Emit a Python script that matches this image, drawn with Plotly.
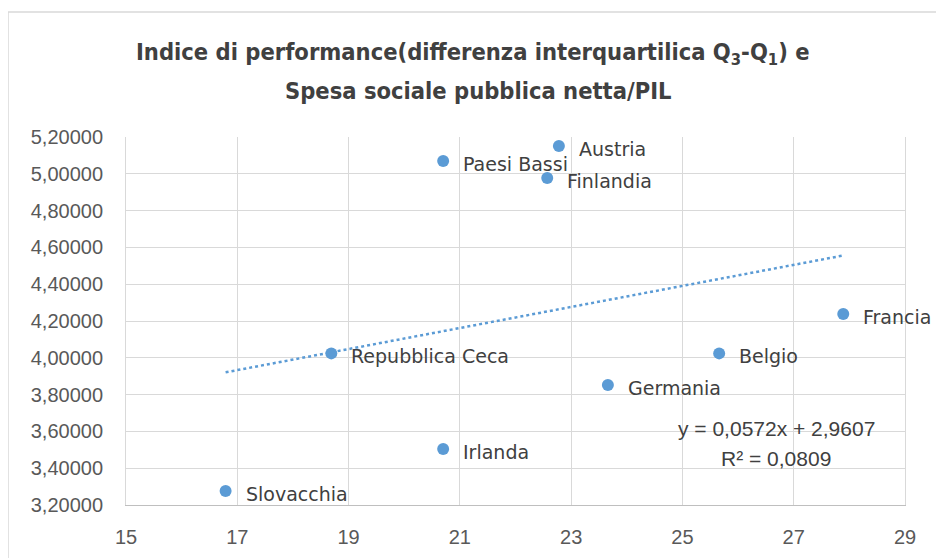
import plotly.graph_objects as go

countries = ["Slovacchia", "Repubblica Ceca", "Irlanda", "Paesi Bassi", "Austria",
             "Finlandia", "Germania", "Belgio", "Francia"]
spesa_pil = [16.79, 18.69, 20.70, 20.70, 22.78, 22.57, 23.66, 25.66, 27.89]
indice = [3.276, 4.024, 3.504, 5.070, 5.151, 4.977, 3.852, 4.024, 4.238]

trend_slope = 0.0572
trend_intercept = 2.9607
trend_r2 = 0.0809

x_ticks = [15, 17, 19, 21, 23, 25, 27, 29]
y_ticks = [3.2, 3.4, 3.6, 3.8, 4.0, 4.2, 4.4, 4.6, 4.8, 5.0, 5.2]
y_tick_labels = ["3,20000", "3,40000", "3,60000", "3,80000", "4,00000", "4,20000",
                 "4,40000", "4,60000", "4,80000", "5,00000", "5,20000"]

title_line1 = "<b>Indice di performance(differenza interquartilica Q<sub>3</sub>-Q<sub>1</sub>) e</b>"
title_line2 = "<b>Spesa sociale pubblica netta/PIL</b>"

BLUE = "#5B9BD5"
GRID = "#D9D9D9"
TXT = "#595959"
LBL = "#404040"
TITLE_FONT = "Liberation Sans Narrow, DejaVu Sans Condensed, Liberation Sans"

# page offset of the figure (browser body margin) is compensated in margins
L, R, T, B = 118, 47, 129, 61
PW = 944 - L - R   # 779
PH = 558 - T - B   # 368


def py(page_y):
    # page pixel y (reference) -> paper y
    return (505 - page_y) / PH


def px(page_x):
    return (page_x - 126) / PW


fig = go.Figure()

tx = [min(spesa_pil), max(spesa_pil)]
ty = [trend_slope * v + trend_intercept for v in tx]
fig.add_trace(go.Scatter(x=tx, y=ty, mode="lines",
                         line=dict(color=BLUE, width=2.5, dash="dot"),
                         hoverinfo="skip", showlegend=False))

fig.add_trace(go.Scatter(x=spesa_pil, y=indice, mode="markers",
                         marker=dict(color=BLUE, size=12),
                         text=countries, showlegend=False))

annotations = []
for c, xv, yv in zip(countries, spesa_pil, indice):
    annotations.append(dict(x=xv, y=yv, xref="x", yref="y", text=c, showarrow=False,
                            xanchor="left", yanchor="middle", xshift=18, yshift=-3,
                            font=dict(family="DejaVu Sans", size=19, color=LBL)))

eq_line1 = ("y = " + f"{trend_slope:.4f}".replace(".", ",") + "x + "
            + f"{trend_intercept:.4f}".replace(".", ","))
eq_line2 = "R² = " + f"{trend_r2:.4f}".replace(".", ",")
annotations.append(dict(x=px(776), y=py(428), xref="paper", yref="paper", text=eq_line1,
                        showarrow=False, xanchor="center", yanchor="middle",
                        font=dict(family="Liberation Sans", size=21, color=LBL)))
annotations.append(dict(x=px(776), y=py(458), xref="paper", yref="paper", text=eq_line2,
                        showarrow=False, xanchor="center", yanchor="middle",
                        font=dict(family="Liberation Sans", size=21, color=LBL)))

annotations.append(dict(x=px(473), y=py(53), xref="paper", yref="paper", text=title_line1,
                        showarrow=False, xanchor="center", yanchor="middle",
                        font=dict(family=TITLE_FONT, size=23.5, color=LBL)))
annotations.append(dict(x=px(478), y=py(91), xref="paper", yref="paper", text=title_line2,
                        showarrow=False, xanchor="center", yanchor="middle",
                        font=dict(family=TITLE_FONT, size=23.5, color=LBL)))

fig.update_layout(
    width=944, height=558,
    margin=dict(l=L, r=R, t=T, b=B, autoexpand=False),
    paper_bgcolor="white", plot_bgcolor="white",
    xaxis=dict(range=[15, 29], tickvals=x_ticks, ticktext=[str(v) for v in x_ticks],
               showgrid=True, gridcolor=GRID, gridwidth=1, zeroline=False,
               showline=True, linecolor="#BFBFBF", linewidth=1,
               ticks="outside", ticklen=14, tickcolor="rgba(0,0,0,0)",
               tickfont=dict(family="Liberation Sans", size=20, color=TXT)),
    yaxis=dict(range=[3.2, 5.2], tickvals=y_ticks, ticktext=y_tick_labels,
               showgrid=True, gridcolor=GRID, gridwidth=1, zeroline=False,
               showline=True, linecolor=GRID, linewidth=1, mirror=True,
               ticks="outside", ticklen=18, tickcolor="rgba(0,0,0,0)",
               tickfont=dict(family="Liberation Sans", size=20, color=TXT)),
    annotations=annotations,
    shapes=[dict(type="rect", xref="paper", yref="paper",
                 x0=px(8), x1=px(975), y0=py(575), y1=py(12),
                 line=dict(color=GRID, width=1.5), fillcolor="rgba(0,0,0,0)",
                 layer="below")],
)

fig.write_html("out.html")
